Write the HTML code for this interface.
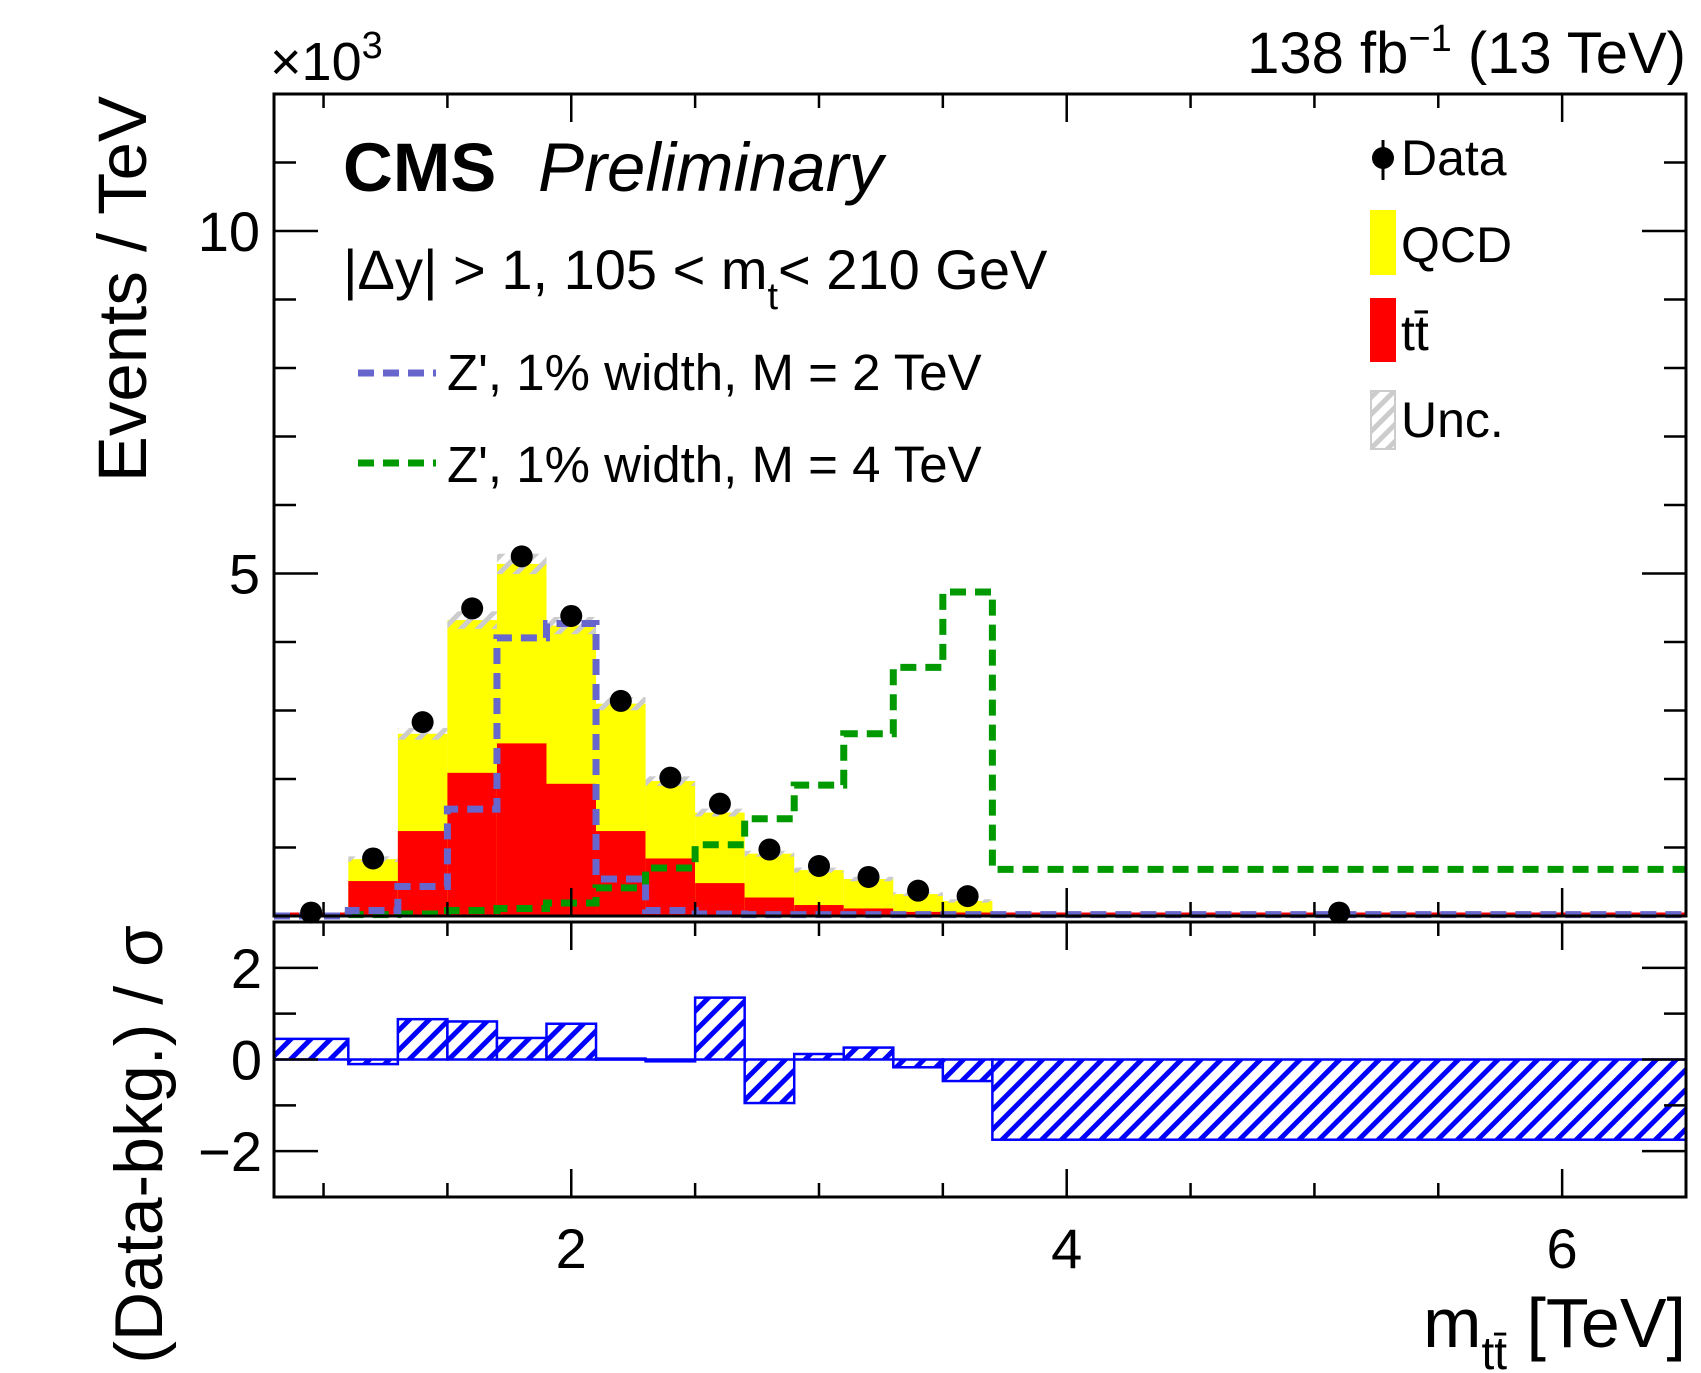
<!DOCTYPE html>
<html><head><meta charset="utf-8">
<style>
html,body{margin:0;padding:0;background:#fff;}
svg{display:block;font-family:"Liberation Sans",sans-serif;}
</style></head>
<body>
<svg id="chart" width="1701" height="1373" viewBox="0 0 1701 1373" xmlns="http://www.w3.org/2000/svg">
<defs>
<pattern id="hatchBlue" patternUnits="userSpaceOnUse" width="14" height="14" patternTransform="rotate(45)">
<rect width="14" height="14" fill="#fff"/><rect x="0" y="0" width="5" height="14" fill="#0000ff"/>
</pattern>
<pattern id="hatchGray" patternUnits="userSpaceOnUse" width="12" height="12" patternTransform="rotate(45)">
<rect x="0" y="0" width="5" height="12" fill="#cccccc"/>
</pattern>
</defs>
<g id="main"></g>
<g id="ratio"></g>
<g id="axes"></g>
<g id="texts">
<text x="270" y="80" font-size="54">×10<tspan dy="-22" font-size="38">3</tspan></text>
<text x="1686" y="73" font-size="58" text-anchor="end">138 fb<tspan dy="-22" font-size="38">−1</tspan><tspan dy="22"> (13 TeV)</tspan></text>
<text x="343" y="191" font-size="69" font-weight="bold">CMS</text>
<text x="538" y="191" font-size="69" font-style="italic">Preliminary</text>
<text x="343" y="289" font-size="56">|Δy| &gt; 1, 105 &lt; m<tspan dy="20" font-size="38">t</tspan><tspan dy="-20">&lt; 210 GeV</tspan></text>
<line x1="358" y1="373" x2="436" y2="373" stroke="#6666cc" stroke-width="7" stroke-dasharray="16,9"/>
<text x="447" y="390" font-size="51">Z', 1% width, M = 2 TeV</text>
<line x1="358" y1="463" x2="436" y2="463" stroke="#009900" stroke-width="7" stroke-dasharray="16,9"/>
<text x="447" y="482" font-size="51">Z', 1% width, M = 4 TeV</text>
<line x1="1383" y1="140" x2="1383" y2="180" stroke="#000" stroke-width="3"/>
<circle cx="1383" cy="158" r="11" fill="#000"/>
<text x="1401" y="175" font-size="50">Data</text>
<rect x="1370" y="210" width="26" height="65" fill="#ffff00"/>
<text x="1401" y="262" font-size="50">QCD</text>
<rect x="1370" y="298" width="26" height="64" fill="#ff0000"/>
<text x="1401" y="350" font-size="50">tt̄</text>
<rect x="1371" y="391" width="24" height="58" fill="url(#hatchGray)" stroke="#cccccc" stroke-width="2"/>
<text x="1401" y="437" font-size="50">Unc.</text>
<text transform="translate(146,96) rotate(-90)" font-size="69" text-anchor="end">Events / TeV</text>
<text transform="translate(162,925) rotate(-90)" font-size="68" text-anchor="end">(Data-bkg.) / σ</text>
<text x="1686" y="1347" font-size="70" text-anchor="end">m<tspan dy="22" font-size="46">tt̄</tspan><tspan dy="-22"> [TeV]</tspan></text>
</g>
</svg>
<script>
const edges = [0.8,1.1,1.3,1.5,1.7,1.9,2.1,2.3,2.5,2.7,2.9,3.1,3.3,3.5,3.7,6.5];
const dataVals = [0.05,0.84,2.83,4.49,5.25,4.38,3.14,2.02,1.64,0.97,0.73,0.57,0.37,0.29,0.05];
const totalBkg = [0.01,0.83,2.66,4.32,5.14,4.24,3.10,1.97,1.51,0.91,0.67,0.54,0.32,0.22,0.03];
const ttVals = [0.01,0.51,1.24,2.09,2.52,1.93,1.24,0.84,0.48,0.27,0.16,0.11,0.06,0.05,0.01];
const zp2Vals = [0.0,0.08,0.43,1.56,4.06,4.27,0.54,0.08,0.03,0.02,0.02,0.02,0.02,0.02,0.02];
const zp4Vals = [0.0,0.02,0.03,0.08,0.11,0.19,0.41,0.70,1.04,1.42,1.91,2.66,3.63,4.73,0.68];
const pullVals = [0.45,-0.10,0.88,0.83,0.47,0.78,0.02,-0.04,1.35,-0.95,0.12,0.26,-0.17,-0.47,-1.75];
const xTicks = [2,4,6];
const yTicks = [5,10];
const rTicks = [-2,0,2];

const NS='http://www.w3.org/2000/svg';
const L=274,R=1686,T=94,B=916,RT=922,RB=1197;
const sx=v=>L+(v-0.8)/(6.5-0.8)*(R-L);
const sy=v=>B-v/12*(B-T);
const ry=v=>RT+(3-v)/6*(RB-RT);
function mk(tag,attrs,parent){const e=document.createElementNS(NS,tag);for(const k in attrs)e.setAttribute(k,attrs[k]);parent.appendChild(e);return e;}
const gm=document.getElementById('main'),gr=document.getElementById('ratio'),ga=document.getElementById('axes');

function stepPath(vals,yf){let d='';for(let i=0;i<vals.length;i++){const x0=sx(edges[i]),x1=sx(edges[i+1]),y=yf(vals[i]);d+=(i===0?'M':'L')+x0+','+y+'L'+x1+','+y;}return d;}

for(let i=0;i<totalBkg.length;i++){
  const x0=sx(edges[i]),x1=sx(edges[i+1]);
  let e=mk('rect',{x:x0,y:sy(totalBkg[i]),width:x1-x0,height:B-sy(totalBkg[i]),fill:'#ffff00'},gm);
  
  
  e=mk('rect',{x:x0,y:sy(ttVals[i]),width:x1-x0,height:B-sy(ttVals[i]),fill:'#ff0000'},gm);
  
  
  const u=totalBkg[i]*0.025+0.02;
  e=mk('rect',{x:x0,y:sy(totalBkg[i]+u),width:x1-x0,height:Math.max(2,sy(totalBkg[i]-u)-sy(totalBkg[i]+u)),fill:'url(#hatchGray)'},gm);
  
  
}
let p=mk('line',{x1:L,y1:B-2,x2:R,y2:B-2,stroke:'#ff0000','stroke-width':3},gm);


p=mk('path',{d:stepPath(zp4Vals,sy),fill:'none',stroke:'#009900','stroke-width':7,'stroke-dasharray':'16,9'},gm);


p=mk('path',{d:stepPath(zp2Vals,sy),fill:'none',stroke:'#6666cc','stroke-width':7,'stroke-dasharray':'16,9'},gm);


for(let i=0;i<dataVals.length;i++){
  const c=mk('circle',{cx:(sx(edges[i])+sx(edges[i+1]))/2,cy:sy(dataVals[i]),r:11,fill:'#000'},gm);
  
  
}
for(let i=0;i<pullVals.length;i++){
  const x0=sx(edges[i]),x1=sx(edges[i+1]),y0=ry(0),y1=ry(pullVals[i]);
  const r=mk('rect',{x:x0,y:Math.min(y0,y1),width:x1-x0,height:Math.max(1,Math.abs(y1-y0)),fill:'url(#hatchBlue)',stroke:'#0000ff','stroke-width':2.5},gr);
  
  
}
let f=mk('rect',{x:L,y:T,width:R-L,height:B-T,fill:'none',stroke:'#000','stroke-width':3},ga);


f=mk('rect',{x:L,y:RT,width:R-L,height:RB-RT,fill:'none',stroke:'#000','stroke-width':3},ga);


function tk(x1,y1,x2,y2){mk('line',{x1,y1,x2,y2,stroke:'#000','stroke-width':2.5},ga);}
for(let v=1;v<=6.5;v+=0.5){const x=sx(v);const maj=xTicks.includes(v);const l=maj?28:14;
  tk(x,B,x,B-l);tk(x,T,x,T+l);tk(x,RB,x,RB-l);tk(x,RT,x,RT+l);}
for(let v=1;v<=11;v++){const y=sy(v);const l=yTicks.includes(v)?44:22;tk(L,y,L+l,y);tk(R,y,R-l,y);}
for(let v=-2;v<=2;v++){const y=ry(v);const l=rTicks.includes(v)?44:22;tk(L,y,L+l,y);tk(R,y,R-l,y);}
xTicks.forEach(v=>{const t=mk('text',{x:sx(v),y:1268,'font-size':56,'text-anchor':'middle'},ga);t.textContent=v;
  
  });
yTicks.forEach(v=>{const t=mk('text',{x:260,y:sy(v)+20,'font-size':56,'text-anchor':'end'},ga);t.textContent=v;
  
  });
rTicks.forEach(v=>{const t=mk('text',{x:262,y:ry(v)+20,'font-size':56,'text-anchor':'end'},ga);t.textContent=v<0?'−'+(-v):v;
  
  });
</script>
</body></html>
